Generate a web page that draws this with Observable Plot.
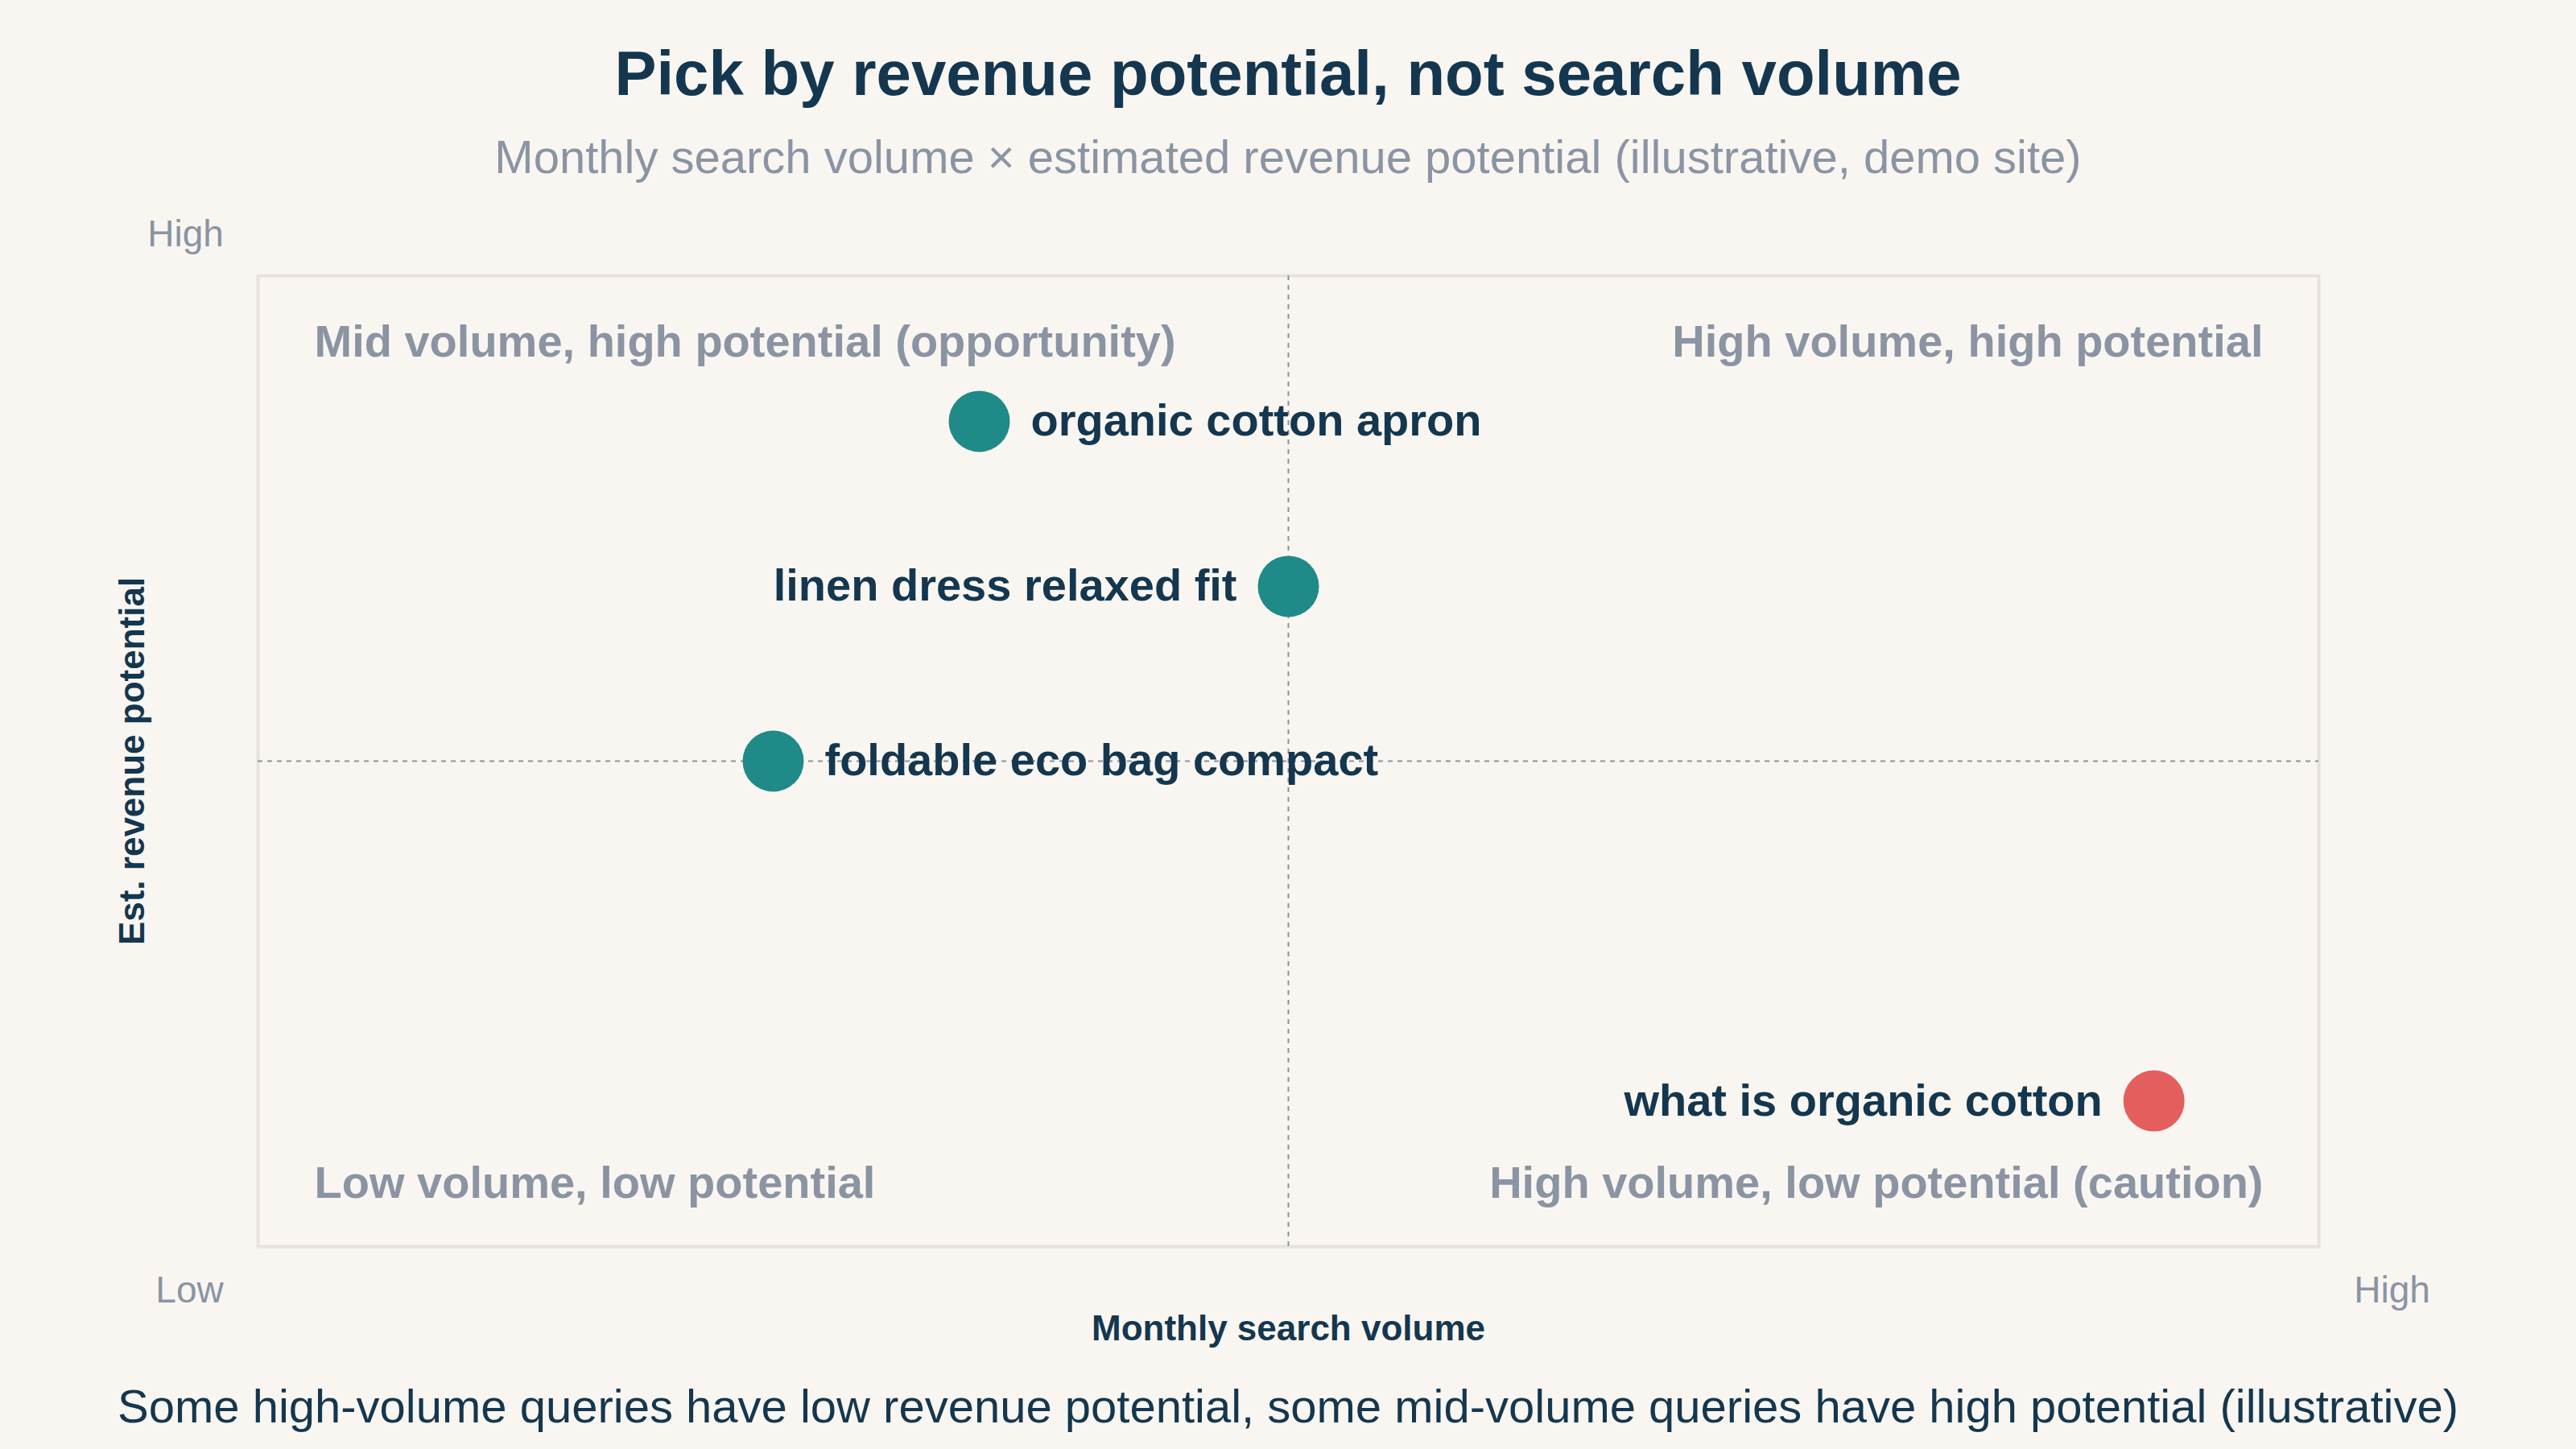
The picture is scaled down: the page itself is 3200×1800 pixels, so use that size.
<!DOCTYPE html>
<html>
<head>
<meta charset="utf-8">
<script src="https://cdn.jsdelivr.net/npm/d3@7"></script>
<script src="https://cdn.jsdelivr.net/npm/@observablehq/plot@0.6"></script>
<style>
  html, body { margin: 0; padding: 0; background: #f9f6f2; }
  #page {
    position: relative; width: 3200px; height: 1800px; background: #f9f6f2;
    font-family: "Liberation Sans", Arial, Helvetica, sans-serif; overflow: hidden;
  }
  .line { position: absolute; left: 0; width: 3200px; text-align: center; line-height: 1; white-space: nowrap; }
  #title { top: 52px; font-size: 78px; font-weight: bold; color: #14374f; }
  #subtitle { top: 166px; font-size: 58px; color: #8a94a3; }
  #caption { top: 1718px; font-size: 58px; color: #14374f; }
  #chart { position: absolute; left: 0; top: 250px; }
</style>
</head>
<body>
<div id="page">
  <div id="title" class="line">Pick by revenue potential, not search volume</div>
  <div id="subtitle" class="line">Monthly search volume × estimated revenue potential (illustrative, demo site)</div>
  <div id="chart"></div>
  <div id="caption" class="line">Some high-volume queries have low revenue potential, some mid-volume queries have high potential (illustrative)</div>
</div>
<script>
// Keyword queries: monthly search volume (0–100) vs estimated revenue potential (0–100)
const queries = ["organic cotton apron", "linen dress relaxed fit", "foldable eco bag compact", "what is organic cotton"];
const volume = [35, 50, 25, 92];
const potential = [85, 68, 50, 15];
const group = ["opportunity", "opportunity", "opportunity", "caution"];

// Quadrant split points
const volumeMid = 50;
const potentialMid = 50;

// Quadrant names, reading order: top-left, top-right, bottom-left, bottom-right
const quadrantLabels = [
  "Mid volume, high potential (opportunity)",
  "High volume, high potential",
  "Low volume, low potential",
  "High volume, low potential (caution)"
];
const groupNames = ["opportunity", "caution"];
const groupColors = ["#1f8a87", "#e55e5e"];

const points = queries.map((q, i) => ({query: q, volume: volume[i], potential: potential[i], group: group[i]}));

const navy = "#14374f";
const gray = "#8a94a3";

// frame-anchored text, always centred on its line
const note = (text, options) => Plot.text([text], {lineAnchor: "middle", ...options});

const chart = Plot.plot({
  width: 3200,
  height: 1450,
  marginLeft: 320,
  marginRight: 320,
  marginTop: 92,
  marginBottom: 152,
  style: {background: "transparent", fontFamily: "'Liberation Sans', Arial, Helvetica, sans-serif", overflow: "visible"},
  x: {domain: [0, 100], axis: null},
  y: {domain: [0, 100], axis: null},
  color: {domain: groupNames, range: groupColors},
  marks: [
    Plot.frame({stroke: "#e7e3dc", strokeWidth: 4}),
    Plot.ruleX([volumeMid], {stroke: "#8d929b", strokeWidth: 2, strokeDasharray: "6 6"}),
    Plot.ruleY([potentialMid], {stroke: "#8d929b", strokeWidth: 2, strokeDasharray: "6 6"}),

    // quadrant names
    note(quadrantLabels[0], {frameAnchor: "top-left", textAnchor: "start", dx: 70, dy: 83, fontSize: 56, fontWeight: "bold", fill: gray}),
    note(quadrantLabels[1], {frameAnchor: "top-right", textAnchor: "end", dx: -69, dy: 83, fontSize: 56, fontWeight: "bold", fill: gray}),
    note(quadrantLabels[2], {frameAnchor: "bottom-left", textAnchor: "start", dx: 70, dy: -78, fontSize: 56, fontWeight: "bold", fill: gray}),
    note(quadrantLabels[3], {frameAnchor: "bottom-right", textAnchor: "end", dx: -69, dy: -78, fontSize: 56, fontWeight: "bold", fill: gray}),

    // Low / High ends of the axes
    note("High", {frameAnchor: "top-left", textAnchor: "middle", dx: -90, dy: -51, fontSize: 46, fill: gray}),
    note("Low", {frameAnchor: "bottom-left", textAnchor: "middle", dx: -85, dy: 55, fontSize: 46, fill: gray}),
    note("High", {frameAnchor: "bottom-right", textAnchor: "middle", dx: 91, dy: 55, fontSize: 46, fill: gray}),

    // axis titles
    note("Monthly search volume", {frameAnchor: "bottom", textAnchor: "middle", dy: 102, fontSize: 44, fontWeight: "bold", fill: navy}),
    note("Est. revenue potential", {frameAnchor: "left", textAnchor: "middle", rotate: -90, dx: -156, fontSize: 44, fontWeight: "bold", fill: navy}),

    // queries
    Plot.dot(points, {x: "volume", y: "potential", r: 38, fill: "group", stroke: null}),
    Plot.text(points.filter(d => d.volume < volumeMid), {x: "volume", y: "potential", text: "query", textAnchor: "start", dx: 64, fontSize: 56, fontWeight: "bold", fill: navy}),
    Plot.text(points.filter(d => d.volume >= volumeMid), {x: "volume", y: "potential", text: "query", textAnchor: "end", dx: -64, fontSize: 56, fontWeight: "bold", fill: navy})
  ]
});
document.getElementById("chart").appendChild(chart);
</script>
</body>
</html>
